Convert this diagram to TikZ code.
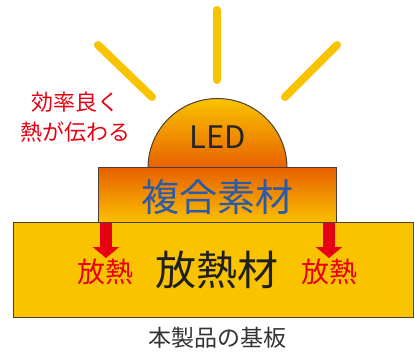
\documentclass[tikz,border=0pt]{standalone}
\usepackage{fontspec}
\setmainfont{Noto Sans CJK JP}
\usetikzlibrary{arrows.meta}
\definecolor{rayyellow}{HTML}{F9C300}
\definecolor{baseyellow}{HTML}{F9C300}
\definecolor{ledorange}{HTML}{E86000}
\definecolor{heatred}{HTML}{E60012}
\definecolor{textblue}{HTML}{2B5BA8}
\definecolor{edgegray}{HTML}{4A4038}
\tikzset{
  ray/.style={rayyellow, line width=8pt, line cap=round},
  layerbox/.style={draw=edgegray, line width=1pt, inner sep=0pt},
  heatarrow/.style={heatred, line width=12pt, -{Triangle[length=11pt,width=26pt]}},
  heatlabel/.style={heatred, font=\fontsize{28}{28}\selectfont}
}
\begin{document}
\begin{tikzpicture}[x=1pt,y=-1pt]
\useasboundingbox (0,0) rectangle (414,352);
% light rays
\draw[ray] (98,45) -- (152,97);
\draw[ray] (217,10) -- (217,80);
\draw[ray] (337,45) -- (285,97);

% LED dome
\shade[top color=rayyellow, bottom color=ledorange, draw=edgegray, line width=1pt]
  (148,168) arc[start angle=180, end angle=360, radius=69.5] -- cycle;
\node[font=\fontsize{31}{31}\selectfont, text=black!85] (led) at (217.5,137) {LED};

% layers
\node[layerbox, minimum width=400pt, minimum height=95pt, fill=baseyellow] (base) at (213,270) {};
\node[layerbox, minimum width=238pt, minimum height=55pt, top color=ledorange, bottom color=rayyellow!95!orange] (comp) at (217,195) {};
\node[font=\fontsize{38}{38}\selectfont, text=textblue] (complabel) at (217,197) {複合素材};
\node[font=\fontsize{41}{41}\selectfont, text=black!88] (baselabel) at (217,270) {放熱材};

% heat flow
\coordinate (hlA) at (106,223);
\coordinate (hlB) at (106,258);
\coordinate (hrA) at (329,223);
\coordinate (hrB) at (329,258);
\draw[heatarrow] (hlA) -- (hlB);
\draw[heatarrow] (hrA) -- (hrB);
\node[heatlabel] (heatl) at (105,272) {放熱};
\node[heatlabel] (heatr) at (329,272) {放熱};

\node[heatred, font=\fontsize{22}{30}\selectfont, align=center] (note) at (75,117) {効率良く\\熱が伝わる};
\node[font=\fontsize{23}{23}\selectfont, text=black!80] (board) at (217,338) {本製品の基板};
\end{tikzpicture}
\end{document}
